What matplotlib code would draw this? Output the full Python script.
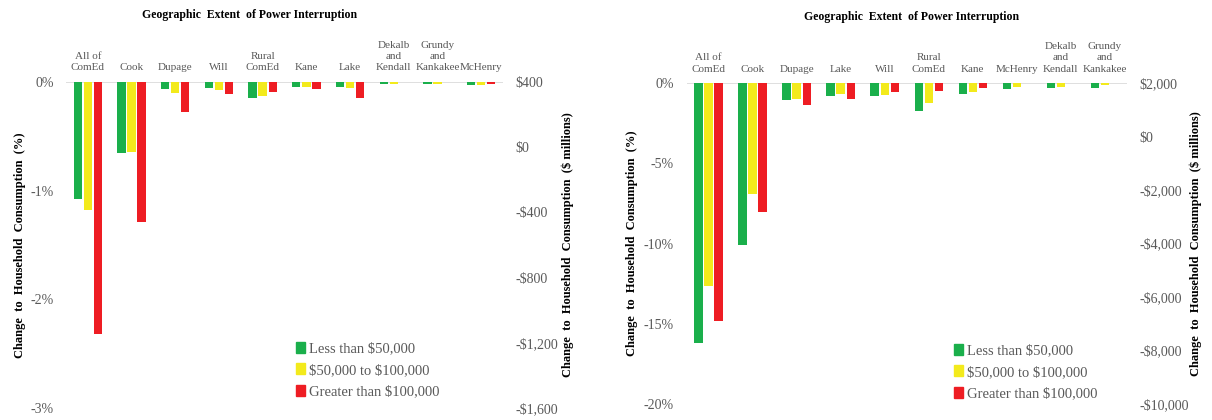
import matplotlib
matplotlib.use("Agg")
import matplotlib.pyplot as plt
from matplotlib.patches import Patch
from matplotlib.ticker import FuncFormatter
import numpy as np

plt.rcParams['font.family'] = ['Liberation Serif', 'DejaVu Serif']
plt.rcParams['text.parse_math'] = False

# data (percent change)
left_regions = ["All of\nComEd", "Cook", "Dupage", "Will", "Rural\nComEd", "Kane", "Lake",
                "Dekalb\nand\nKendall", "Grundy\nand\nKankakee", "McHenry"]
left_low = [-1.08, -0.65, -0.068, -0.052, -0.144, -0.046, -0.046, -0.021, -0.021, -0.031]
left_mid = [-1.18, -0.64, -0.098, -0.077, -0.129, -0.046, -0.052, -0.021, -0.018, -0.031]
left_high = [-2.32, -1.29, -0.277, -0.108, -0.095, -0.068, -0.144, 0.0, 0.0, -0.015]

right_regions = ["All of\nComEd", "Cook", "Dupage", "Lake", "Will", "Rural\nComEd", "Kane",
                 "McHenry", "Dekalb\nand\nKendall", "Grundy\nand\nKankakee"]
right_low = [-16.2, -10.1, -1.04, -0.79, -0.77, -1.73, -0.69, -0.33, -0.27, -0.27]
right_mid = [-12.65, -6.9, -1.0, -0.67, -0.71, -1.21, -0.56, -0.25, -0.21, -0.13]
right_high = [-14.8, -8.0, -1.37, -0.98, -0.56, -0.46, -0.31, 0.0, 0.0, 0.0]

series_names = ["Less than $50,000", "$50,000 to $100,000", "Greater than $100,000"]
colors = ['#1AAF4B', '#F3EA1C', '#EE1D23']
gray = '#595959'

title = "Geographic  Extent  of Power Interruption"
ylab_pct = "Change  to  Household  Consumption  (%)"
ylab_usd = "Change  to  Household  Consumption  ($ millions)"

W, H = 1212, 420
fig = plt.figure(figsize=(W / 100, H / 100), dpi=100)


def money(v, pos):
    s = "${:,.0f}".format(abs(v))
    return "-" + s if v < 0 else s


def panel(box, regions, series, ylim, yticks, ylim2, yticks2, ttl_xy, lab_x, leg_xy):
    l, t, r, b = box
    ax = fig.add_axes([l / W, 1 - b / H, (r - l) / W, (b - t) / H])
    x = np.arange(len(regions))
    for k, vals in enumerate(series):
        ax.bar(x + (k - 1) * 0.229, vals, width=0.19, color=colors[k], zorder=3)
    ax.set_xlim(-0.5, len(regions) - 0.5)
    ax.set_ylim(*ylim)
    ax.set_yticks(yticks)
    ax.yaxis.set_major_formatter(FuncFormatter(lambda v, p: "{:.0f}%".format(v)))
    ax.set_xticks([])
    ax.axhline(0, color='#D9D9D9', lw=1.2, zorder=2)
    for s in ax.spines.values():
        s.set_visible(False)
    ax.tick_params(axis='y', length=0, pad=9, labelsize=10, labelcolor=gray)
    for xi, name in zip(x, regions):
        ax.annotate(name, (xi, 0), xytext=(0, 7), textcoords='offset points',
                    ha='center', va='bottom', fontsize=8, color=gray,
                    linespacing=1.3, annotation_clip=False)

    ax2 = ax.twinx()
    ax2.set_ylim(*ylim2)
    ax2.set_yticks(yticks2)
    ax2.yaxis.set_major_formatter(FuncFormatter(money))
    for s in ax2.spines.values():
        s.set_visible(False)
    ax2.tick_params(axis='y', length=0, pad=9, labelsize=10, labelcolor=gray)

    fig.text(ttl_xy[0] / W, 1 - ttl_xy[1] / H, title, ha='center', va='center',
             fontsize=8.5, fontweight='bold')
    yc = 1 - (t + b) / 2 / H
    fig.text(lab_x[0] / W, yc, ylab_pct, rotation=90, ha='center', va='center',
             fontsize=9, fontweight='bold')
    fig.text(lab_x[1] / W, yc, ylab_usd, rotation=90, ha='center', va='center',
             fontsize=9, fontweight='bold')

    handles = [Patch(color=c) for c in colors]
    fig.legend(handles, series_names, loc='center left',
               bbox_to_anchor=(leg_xy[0] / W, 1 - leg_xy[1] / H),
               frameon=False, fontsize=10.5, handlelength=0.6, handleheight=0.8,
               handletextpad=0.25, labelspacing=0.55, borderpad=0, labelcolor=gray)
    return ax


panel((66, 82, 503, 408), left_regions, [left_low, left_mid, left_high],
      (-3, 0), [-3, -2, -1, 0], (-1600, 400), [-1600, -1200, -800, -400, 0, 400],
      (250, 15), (20, 568), (289, 370))

panel((686.5, 83.3, 1127, 404), right_regions, [right_low, right_mid, right_high],
      (-20, 0), [-20, -15, -10, -5, 0], (-10000, 2000),
      [-10000, -8000, -6000, -4000, -2000, 0, 2000],
      (912, 17), (632, 1196), (947, 372))

fig.savefig("out.png", dpi=100)
